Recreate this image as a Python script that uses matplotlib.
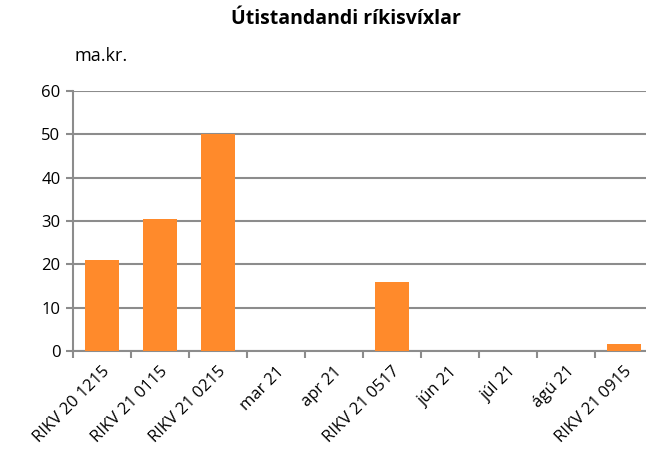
import numpy as np
import matplotlib.pyplot as plt
from matplotlib.ticker import FixedLocator

labels = ['RIKV 20 1215', 'RIKV 21 0115', 'RIKV 21 0215', 'mar 21', 'apr 21',
          'RIKV 21 0517', 'jún 21', 'júl 21', 'ágú 21', 'RIKV 21 0915']
values = [20.9, 30.5, 50.1, 0, 0, 15.9, 0, 0, 0, 1.6]

plt.rcParams['font.family'] = ['Open Sans', 'DejaVu Sans']

fig = plt.figure(figsize=(6.46, 4.63), dpi=100)
ax = fig.add_axes([73/646, (463-351)/463, (646-73)/646, 260/463])

x = np.arange(len(labels))
ax.bar(x, values, width=0.59, color='#FF8A2B', zorder=3)

ax.set_ylim(0, 60)
ax.set_yticks(range(0, 61, 10))
ax.set_xlim(-0.5, 9.38)
ax.yaxis.grid(True, color='#8C8C8C', linewidth=1.5, zorder=0)

ax.set_xticks(x)
ax.set_xticklabels(labels, rotation=45, ha='right', rotation_mode='anchor', fontsize=12)
ax.xaxis.set_minor_locator(FixedLocator(np.arange(-0.5, 10, 1)))
ax.tick_params(axis='x', which='major', length=0, pad=9)
ax.tick_params(axis='x', which='minor', length=5, width=1.5, color='#8C8C8C')
ax.tick_params(axis='y', length=5, width=1.5, color='#8C8C8C', labelsize=12, pad=4)

for s in ['top', 'right']:
    ax.spines[s].set_visible(False)
for s in ['left', 'bottom']:
    ax.spines[s].set_color('#8C8C8C')
    ax.spines[s].set_linewidth(1.5)

fig.text(0.535, 0.96, 'Útistandandi ríkisvíxlar', ha='center', va='center',
         fontsize=14, fontweight='bold')
fig.text(75/646, 0.88, 'ma.kr.', ha='left', va='center', fontsize=13)

fig.savefig('out.png', dpi=100)
